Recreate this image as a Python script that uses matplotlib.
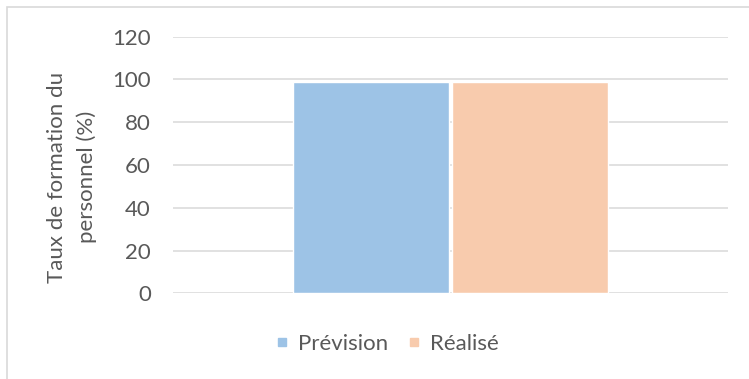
import matplotlib
matplotlib.use("Agg")
import matplotlib.pyplot as plt
from matplotlib.patches import Rectangle
from matplotlib.lines import Line2D

series = ["Prévision", "Réalisé"]
values = [99, 99]
colors = ["#9DC3E6", "#F8CBAD"]
yticks = [0, 20, 40, 60, 80, 100, 120]
ylabel = "Taux de formation du\npersonnel (%)"

plt.rcParams['font.family'] = ['Lato', 'DejaVu Sans']
txt = "#595959"

W, H = 749, 379
fig = plt.figure(figsize=(W / 100, H / 100), dpi=100)
fig.patch.set_facecolor("white")

# outer chart border (top & left visible)
fig.patches.append(Rectangle((7 / W, -0.05), 1.1, 1 - 7 / H + 0.05,
                             transform=fig.transFigure, fill=False,
                             edgecolor="#d9d9d9", linewidth=1.2))

ax = fig.add_axes([173 / W, 1 - 293.3 / H, (728 - 173) / W, (293.3 - 36.7) / H])
width = 0.28
offsets = [-0.1435, 0.1435]
for s, v, c, o in zip(series, values, colors, offsets):
    ax.bar(o, v, width=width, color=c, edgecolor="white", linewidth=1, label=s, zorder=3)

ax.set_xlim(-0.5, 0.5)
ax.set_ylim(0, 120)
ax.set_yticks(yticks)
ax.set_xticks([])
ax.tick_params(axis='y', length=0, pad=16, labelsize=16, labelcolor=txt)
ax.yaxis.grid(True, color="#d9d9d9", linewidth=1.1, zorder=0)
ax.set_axisbelow(True)
for sp in ax.spines.values():
    sp.set_visible(False)

ax.set_ylabel(ylabel, fontsize=16, color=txt, linespacing=1.55)
ax.yaxis.set_label_coords(-0.137, 0.453)

handles = [Line2D([], [], marker='s', linestyle='none', markersize=6,
                  markerfacecolor=c, markeredgecolor=c) for c in colors]
fig.legend(handles, series, loc='center', bbox_to_anchor=(386 / W, 1 - 344 / H),
           ncol=2, frameon=False, fontsize=16, labelcolor=txt,
           handletextpad=0.3, columnspacing=0.8, handlelength=0.8)

fig.savefig("out.png", dpi=100, facecolor="white")
